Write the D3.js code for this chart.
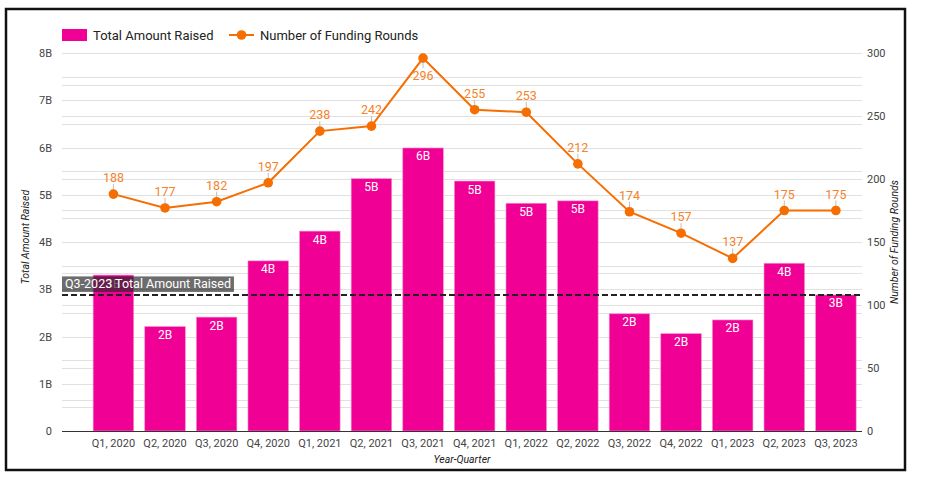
<!DOCTYPE html>
<html>
<head>
<meta charset="utf-8">
<script src="https://cdn.jsdelivr.net/npm/d3@7"></script>
<style>
  body { margin: 0; background: #fff; }
  text { font-family: Roboto, "Noto Sans", sans-serif; }
</style>
</head>
<body>
<svg id="chart" width="926" height="480"></svg>
<script>
const quarters = ["Q1, 2020", "Q2, 2020", "Q3, 2020", "Q4, 2020", "Q1, 2021", "Q2, 2021", "Q3, 2021", "Q4, 2021",
    "Q1, 2022", "Q2, 2022", "Q3, 2022", "Q4, 2022", "Q1, 2023", "Q2, 2023", "Q3, 2023"];

// billions of dollars
const amountRaised = [3.30, 2.21, 2.41, 3.60, 4.23, 5.34, 5.99, 5.29, 4.82, 4.87, 2.48, 2.06, 2.35, 3.55, 2.88];

const fundingRounds = [188, 177, 182, 197, 238, 242, 296, 255, 253, 212, 174, 157, 137, 175, 175];

const leftTicks = [0, 1, 2, 3, 4, 5, 6, 7, 8];
const leftMinor = [0.5, 1.5, 2.5, 3.5, 4.5, 5.5, 6.5, 7.5];
const rightTicks = [0, 50, 100, 150, 200, 250, 300];
const rightMinor = [25, 75, 125, 175, 225, 275];

const refValue = 2.88;
const refLabel = "Q3-2023 Total Amount Raised";

const pink = "#f10096";
const orange = "#f66d00";

const margin = ({top: 53, right: 64, bottom: 49, left: 62});
const width = 926;
const height = 480;

const svg = d3.select("#chart");

// outer frame
svg.append("rect")
    .attr("x", 6).attr("y", 9)
    .attr("width", 899).attr("height", 461)
    .attr("fill", "none")
    .attr("stroke", "#111")
    .attr("stroke-width", 2.5);

const x = d3.scaleBand()
    .domain(quarters)
    .range([88, width - margin.right - 0.7])
    .paddingInner(0.215)
    .paddingOuter(0.1);

const y = d3.scaleLinear()
    .domain([0, 8])
    .range([height - margin.bottom, margin.top]);

const y2 = d3.scaleLinear()
    .domain([0, 300])
    .range([height - margin.bottom, margin.top]);

const x0 = margin.left, x1 = width - margin.right;

// gridlines
const grid = svg.append("g").attr("stroke", "#e1e1e1").attr("stroke-width", 1);
grid.selectAll(".gl")
    .data(leftTicks.concat(leftMinor).map(y))
    .join("line")
    .attr("class", "gl")
    .attr("x1", x0).attr("x2", x1)
    .attr("y1", d => Math.round(d) + 0.5).attr("y2", d => Math.round(d) + 0.5);
grid.selectAll(".gr")
    .data(rightTicks.concat(rightMinor).map(y2))
    .join("line")
    .attr("class", "gr")
    .attr("x1", x0).attr("x2", x1)
    .attr("y1", d => Math.round(d) + 0.5).attr("y2", d => Math.round(d) + 0.5);

// axes
const styleTicks = g => g.selectAll("text").attr("fill", "#444").attr("font-size", 11)
    .attr("font-family", "Roboto, sans-serif");

const yAxis = g => g
    .attr("transform", `translate(${x0},0)`)
    .call(d3.axisLeft(y).tickValues(leftTicks).tickSize(0).tickPadding(10)
        .tickFormat(d => d === 0 ? "0" : d + "B"))
    .call(g => g.select(".domain").remove())
    .call(styleTicks);

const y2Axis = g => g
    .attr("transform", `translate(${x1},0)`)
    .call(d3.axisRight(y2).tickValues(rightTicks).tickSize(0).tickPadding(5))
    .call(g => g.select(".domain").remove())
    .call(styleTicks);

const xAxis = g => g
    .attr("transform", `translate(0,${height - margin.bottom})`)
    .call(d3.axisBottom(x).tickSize(0).tickPadding(8))
    .call(g => g.select(".domain").remove())
    .call(styleTicks);

svg.append("g").call(yAxis);
svg.append("g").call(y2Axis);

// bars
const barData = quarters.map((q, i) => ({q, v: amountRaised[i]}));

svg.append("g")
    .selectAll("rect")
    .data(barData)
    .join("rect")
    .attr("x", d => x(d.q))
    .attr("y", d => y(d.v))
    .attr("width", x.bandwidth())
    .attr("height", d => y(0) - y(d.v))
    .attr("fill", pink)
    .attr("stroke", "#f78cc8")
    .attr("stroke-width", 0.6);

svg.append("g")
    .attr("text-anchor", "middle")
    .attr("fill", "#fff")
    .attr("font-size", 12)
    .selectAll("text")
    .data(barData)
    .join("text")
    .attr("x", d => x(d.q) + x.bandwidth() / 2)
    .attr("y", d => y(d.v) + 12.5)
    .text(d => d3.format(".0f")(d.v) + "B");

// baseline
svg.append("line")
    .attr("x1", x0).attr("x2", x1)
    .attr("y1", y(0) + 0.5).attr("y2", y(0) + 0.5)
    .attr("stroke", "#333");

svg.append("g").call(xAxis);

// reference line + label box
svg.append("line")
    .attr("x1", x0).attr("x2", x1)
    .attr("y1", y(refValue)).attr("y2", y(refValue))
    .attr("stroke", "#222")
    .attr("stroke-width", 2)
    .attr("stroke-dasharray", "6,3");

const refG = svg.append("g");
const refBox = refG.append("rect");
const refText = refG.append("text")
    .attr("x", x0 + 3)
    .attr("y", y(refValue) - 6.5)
    .attr("fill", "#fff")
    .attr("font-size", 12.5)
    .text(refLabel);
const bb = refText.node().getBBox();
refBox
    .attr("x", x0)
    .attr("y", y(refValue) - 18.5)
    .attr("width", bb.width + 6)
    .attr("height", 15.5)
    .attr("fill", "#272727")
    .attr("fill-opacity", 0.68);

// line series
const pts = quarters.map((q, i) => ({q, v: fundingRounds[i]}));
const cx = d => x(d.q) + x.bandwidth() / 2;

svg.append("path")
    .datum(pts)
    .attr("fill", "none")
    .attr("stroke", orange)
    .attr("stroke-width", 2)
    .attr("d", d3.line().x(cx).y(d => y2(d.v)));

const labelBelow = d => y2(d.v) - 22 < margin.top;

svg.append("g")
    .attr("stroke", "#bdbdbd")
    .selectAll("line")
    .data(pts)
    .join("line")
    .attr("x1", cx).attr("x2", cx)
    .attr("y1", d => labelBelow(d) ? y2(d.v) + 4 : y2(d.v) - 4)
    .attr("y2", d => labelBelow(d) ? y2(d.v) + 10 : y2(d.v) - 10);

svg.append("g")
    .attr("fill", orange)
    .selectAll("circle")
    .data(pts)
    .join("circle")
    .attr("cx", cx)
    .attr("cy", d => y2(d.v))
    .attr("r", 4.8);

svg.append("g")
    .attr("text-anchor", "middle")
    .attr("fill", "#f5832a")
    .attr("font-size", 12.5)
    .selectAll("text")
    .data(pts)
    .join("text")
    .attr("x", cx)
    .attr("y", d => labelBelow(d) ? y2(d.v) + 21.5 : y2(d.v) - 12)
    .text(d => d.v);

// axis titles
svg.append("text")
    .attr("transform", `translate(29,${(margin.top + height - margin.bottom) / 2 - 5}) rotate(-90)`)
    .attr("text-anchor", "middle")
    .attr("font-style", "italic")
    .attr("font-size", 10.5)
    .attr("fill", "#222")
    .text("Total Amount Raised");

svg.append("text")
    .attr("transform", `translate(898,${(margin.top + height - margin.bottom) / 2}) rotate(-90)`)
    .attr("text-anchor", "middle")
    .attr("font-style", "italic")
    .attr("font-size", 10.5)
    .attr("fill", "#222")
    .text("Number of Funding Rounds");

svg.append("text")
    .attr("x", 462)
    .attr("y", 462.5)
    .attr("text-anchor", "middle")
    .attr("font-style", "italic")
    .attr("font-size", 10.5)
    .attr("fill", "#222")
    .text("Year-Quarter");

// legend
const legend = svg.append("g").attr("font-size", 13).attr("fill", "#222");
legend.append("rect")
    .attr("x", 62).attr("y", 29)
    .attr("width", 25).attr("height", 12)
    .attr("fill", pink);
legend.append("text")
    .attr("x", 93).attr("y", 39.5)
    .text("Total Amount Raised");
legend.append("line")
    .attr("x1", 229).attr("x2", 254)
    .attr("y1", 35).attr("y2", 35)
    .attr("stroke", orange)
    .attr("stroke-width", 2);
legend.append("circle")
    .attr("cx", 241.5).attr("cy", 35)
    .attr("r", 4.8)
    .attr("fill", orange);
legend.append("text")
    .attr("x", 260).attr("y", 39.5)
    .text("Number of Funding Rounds");
</script>
</body>
</html>
